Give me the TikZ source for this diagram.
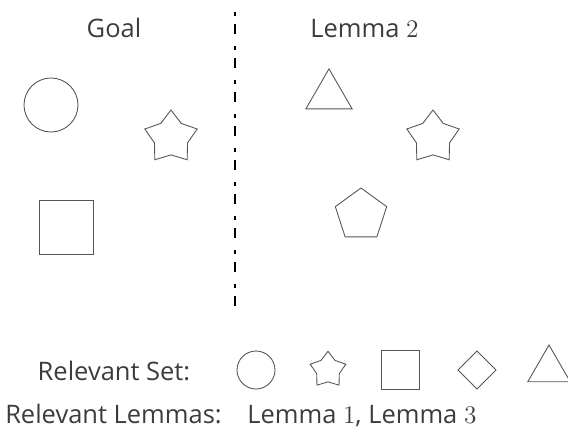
\documentclass[tikz,border=0pt]{standalone}
\usepackage{fontspec}
\setmainfont{Open Sans}
\usetikzlibrary{shapes.geometric}

\definecolor{inkgray}{HTML}{3C3C3C}
\definecolor{linegray}{HTML}{555555}

\tikzset{
  lbl/.style={font=\fontsize{14.5}{17}\selectfont, text=inkgray, anchor=base, inner sep=0pt},
  obj/.style={draw=linegray, line width=0.5pt, inner sep=0pt, outer sep=0pt},
  circ/.style={obj, circle, minimum size=#1},
  sq/.style={obj, rectangle, minimum size=#1},
  tri/.style={obj, regular polygon, regular polygon sides=3, minimum size=#1},
  pent/.style={obj, regular polygon, regular polygon sides=5, minimum size=#1},
  starr/.style={obj, star, star points=5, star point ratio=1.58, minimum size=#1},
  dia/.style={obj, diamond, minimum size=#1},
}

\begin{document}
\begin{tikzpicture}
  \useasboundingbox (0,0) rectangle (11.36,8.68);
  % Headings
  \node[lbl] (goal) at (2.28,7.92) {Goal};
  \node[lbl] (lemtwo) at (7.29,7.92) {Lemma $2$};
  % Divider
  \coordinate (divtop) at (4.70,8.44);
  \coordinate (divbot) at (4.70,2.44);
  \draw[line width=0.6pt, dash pattern=on 0.08cm off 0.17cm on 0.2cm off 0.23cm]
    (divtop) -- (divbot);
  % Goal side
  \node[circ=1.08cm] (gcirc) at (1.02,6.58) {};
  \node[starr=1.1cm] (gstar) at (3.42,5.93) {};
  \node[sq=1.08cm] (gsq) at (1.32,4.14) {};
  % Lemma 2 side
  \node[tri=1.066cm] (ltri) at (6.58,6.77) {};
  \node[starr=1.1cm] (lstar) at (8.66,5.93) {};
  \node[pent=1.08cm] (lpent) at (7.22,4.38) {};
  % Relevant set row
  \node[lbl] (relset) at (2.28,1.06) {Relevant Set:};
  \node[circ=0.76cm] (scirc) at (5.12,1.28) {};
  \node[starr=0.75cm] (sstar) at (6.56,1.28) {};
  \node[sq=0.77cm] (ssq) at (8.01,1.28) {};
  \node[dia=0.76cm] (sdia) at (9.54,1.28) {};
  \node[tri=0.98cm] (stri) at (10.98,1.29) {};
  % Relevant lemmas row
  \node[lbl] (rellem) at (2.27,0.20) {Relevant Lemmas:};
  \node[lbl, anchor=base west] (lemlist) at (4.94,0.20) {Lemma $1$, Lemma $3$};
\end{tikzpicture}
\end{document}
